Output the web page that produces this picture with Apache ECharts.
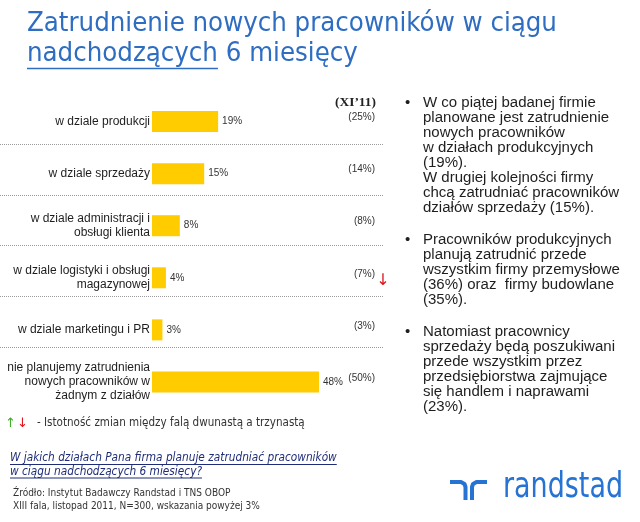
<!DOCTYPE html>
<html><head><meta charset="utf-8">
<script src="https://cdn.jsdelivr.net/npm/echarts@6/dist/echarts.min.js"></script>
<style>html,body{margin:0;padding:0;background:#fff}#c{width:640px;height:522px}</style>
</head><body><div id="c"></div>
<script>
// ---- data ----
const categories = [
  'w dziale produkcji',
  'w dziale sprzedaży',
  'w dziale administracji i\nobsługi klienta',
  'w dziale logistyki i obsługi\nmagazynowej',
  'w dziale marketingu i PR',
  'nie planujemy zatrudnienia\nnowych pracowników w\nżadnym z działów'
];
const currentValues = [19, 15, 8, 4, 3, 48];
const previousValues = [25, 14, 8, 7, 3, 50];
const changeMarks = ['', '', '', 'down', '', ''];
const previousWaveLabel = '(XI’11)';
const titleLine1 = 'Zatrudnienie nowych pracowników w ciągu';
const titleLine2a = 'nadchodzących';
const titleLine2b = ' 6 miesięcy';
const bulletParagraphs = [
  ['W co piątej badanej firmie', 'planowane jest zatrudnienie', 'nowych pracowników', 'w działach produkcyjnych', '(19%).', 'W drugiej kolejności firmy', 'chcą zatrudniać pracowników', 'działów sprzedaży (15%).'],
  ['Pracowników produkcyjnych', 'planują zatrudnić przede', 'wszystkim firmy przemysłowe', '(36%) oraz  firmy budowlane', '(35%).'],
  ['Natomiast pracownicy', 'sprzedaży będą poszukiwani', 'przede wszystkim przez', 'przedsiębiorstwa zajmujące', 'się handlem i naprawami', '(23%).']
];
const legendText = '- Istotność zmian między falą dwunastą a trzynastą';
const questionLines = ['W jakich działach Pana firma planuje zatrudniać pracowników', 'w ciągu nadchodzących 6 miesięcy?'];
const sourceLines = ['Źródło: Instytut Badawczy Randstad i TNS OBOP', 'XIII fala, listopad 2011, N=300, wskazania powyżej 3%'];
const logoText = 'randstad';

// ---- helpers ----
const mctx = document.createElement('canvas').getContext('2d');
function tw(text, size, family, weight, style) {
  mctx.font = (style || 'normal') + ' ' + (weight || 'normal') + ' ' + size + 'px ' + family;
  return mctx.measureText(text).width;
}
function fit(text, family, target, weight, style) {
  return 100 * target / tw(text, 100, family, weight, style);
}
// baseline -> 'middle' y
function mid(baseline, size) { return baseline - 0.34 * size; }

const TITLE_FONT = 'DejaVu Sans Condensed';
const SMALL_FONT = 'DejaVu Sans Condensed';
const ARIAL = 'Liberation Sans';
const titleColor = '#2e6dc2';
const textColor = '#1e1e1e';
const titleSize = fit(titleLine1, TITLE_FONT, 530);
const t2aW = tw(titleLine2a, titleSize, TITLE_FONT);

const graphics = [];
// title
graphics.push({type: 'text', x: 27, y: mid(33, titleSize), style: {text: titleLine1, fontSize: titleSize, fontFamily: TITLE_FONT, fill: titleColor, verticalAlign: 'middle'}});
graphics.push({type: 'text', x: 27, y: mid(63.5, titleSize), style: {text: titleLine2a + titleLine2b, fontSize: titleSize, fontFamily: TITLE_FONT, fill: titleColor, verticalAlign: 'middle'}});
graphics.push({type: 'line', shape: {x1: 27, y1: 68.5, x2: 27 + t2aW, y2: 68.5}, style: {stroke: titleColor, lineWidth: 1.5}});

// previous wave header
const hdrSize = fit(previousWaveLabel, 'Liberation Serif', 41, 'bold');
graphics.push({type: 'text', x: 376, y: mid(107, hdrSize), style: {text: previousWaveLabel, fontSize: hdrSize, fontWeight: 'bold', fontFamily: 'Liberation Serif', fill: '#222', align: 'right', verticalAlign: 'middle'}});

// bullets
const bulletSize = fit(bulletParagraphs[0][0], ARIAL, 173);
const paraStarts = [107.7, 245, 336.7];
bulletParagraphs.forEach((lines, i) => {
  graphics.push({type: 'text', x: 405, y: mid(paraStarts[i], bulletSize), style: {text: '•', fontSize: bulletSize, fontFamily: ARIAL, fill: textColor, verticalAlign: 'middle'}});
  lines.forEach((ln, j) => {
    graphics.push({type: 'text', x: 423, y: mid(paraStarts[i] + j * 15, bulletSize), style: {text: ln, fontSize: bulletSize, fontFamily: ARIAL, fill: textColor, verticalAlign: 'middle'}});
  });
});

// legend (arrows + text)
const legSize = fit(legendText, SMALL_FONT, 268);
graphics.push({type: 'text', x: 5, y: mid(428, 13), style: {text: '↑', fontSize: 13, fontFamily: 'DejaVu Sans', fill: '#3fae2a', verticalAlign: 'middle'}});
graphics.push({type: 'text', x: 17, y: mid(428, 13), style: {text: '↓', fontSize: 13, fontFamily: 'DejaVu Sans', fill: '#e0141e', verticalAlign: 'middle'}});
graphics.push({type: 'text', x: 37, y: mid(427, legSize), style: {text: legendText, fontSize: legSize, fontFamily: SMALL_FONT, fill: '#333', verticalAlign: 'middle'}});

// question
const qColor = '#1f2d78';
const qSize = fit(questionLines[0], SMALL_FONT, 327, 'normal', 'italic');
[462, 475.5].forEach((bl, i) => {
  const w = tw(questionLines[i], qSize, SMALL_FONT, 'normal', 'italic');
  graphics.push({type: 'text', x: 10, y: mid(bl, qSize), style: {text: questionLines[i], fontSize: qSize, fontStyle: 'italic', fontFamily: SMALL_FONT, fill: qColor, verticalAlign: 'middle'}});
  graphics.push({type: 'line', shape: {x1: 10, y1: bl + 2.5, x2: 10 + w, y2: bl + 2.5}, style: {stroke: qColor, lineWidth: 1}});
});

// source
const sSize = fit(sourceLines[1], SMALL_FONT, 247);
[497, 510].forEach((bl, i) => {
  graphics.push({type: 'text', x: 13, y: mid(bl, sSize), style: {text: sourceLines[i], fontSize: sSize, fontFamily: SMALL_FONT, fill: '#333', verticalAlign: 'middle'}});
});

// logo
const logoColor = '#2673d4';
const logoSize = 35.5;
const logoScaleX = 120 / tw(logoText, logoSize, 'DejaVu Sans Condensed');
graphics.push({type: 'text', x: 503, y: mid(500, logoSize), scaleX: logoScaleX, style: {text: logoText, fontSize: logoSize, fontFamily: 'DejaVu Sans Condensed', fill: logoColor, verticalAlign: 'middle'}});
graphics.push({type: 'polyline', shape: {points: [[450, 482], [461, 482], [464.5, 484], [465.5, 487], [465.5, 500]]}, style: {stroke: logoColor, lineWidth: 4, fill: null, lineJoin: 'round'}});
graphics.push({type: 'polyline', shape: {points: [[472, 500], [472, 487], [473, 484], [476.5, 482], [487, 482]]}, style: {stroke: logoColor, lineWidth: 4, fill: null, lineJoin: 'round'}});

// ---- chart ----
const chart = echarts.init(document.getElementById('c'), null, {renderer: 'canvas'});
chart.setOption({
  backgroundColor: '#fff',
  animation: false,
  grid: [
    {left: 152, right: 257, top: 95.5, height: 312.5},
    {left: 0, right: 257, top: 144, height: 203}
  ],
  xAxis: [
    {type: 'value', gridIndex: 0, min: 0, max: 66.4, show: false},
    {type: 'value', gridIndex: 1, show: false}
  ],
  yAxis: [
    {
      type: 'category', gridIndex: 0, data: categories, inverse: true,
      axisLine: {show: false}, axisTick: {show: false}, splitLine: {show: false},
      axisLabel: {color: textColor, fontSize: 12, fontFamily: ARIAL, margin: 2, lineHeight: 14, align: 'right'}
    },
    {
      type: 'category', gridIndex: 0, data: categories, inverse: true, position: 'right',
      axisLine: {show: false}, axisTick: {show: false}, splitLine: {show: false},
      axisLabel: {
        margin: 8, align: 'right',
        formatter: (v, i) => '{v|(' + previousValues[i] + '%)}{a|' + (changeMarks[i] === 'down' ? '↓' : (changeMarks[i] === 'up' ? '↑' : '')) + '}',
        rich: {
          v: {fontSize: 10, fontFamily: ARIAL, color: '#333', padding: [0, 0, 8, 0]},
          a: {width: 16, align: 'center', fontSize: 16, fontFamily: 'DejaVu Sans', color: '#e0141e', padding: [6, 0, 0, 0]}
        }
      }
    },
    {
      type: 'category', gridIndex: 1, data: ['', '', '', ''],
      axisLine: {show: false}, axisTick: {show: false}, axisLabel: {show: false},
      splitLine: {show: true, lineStyle: {color: '#9a9a9a', type: 'dotted', width: 1}}
    }
  ],
  series: [{
    type: 'bar', xAxisIndex: 0, yAxisIndex: 0,
    data: currentValues, barWidth: 21,
    itemStyle: {color: '#ffcc00'},
    label: {show: true, position: 'right', distance: 4, formatter: '{c}%', color: '#333', fontSize: 10, fontFamily: ARIAL}
  }],
  graphic: graphics
});
</script></body></html>
